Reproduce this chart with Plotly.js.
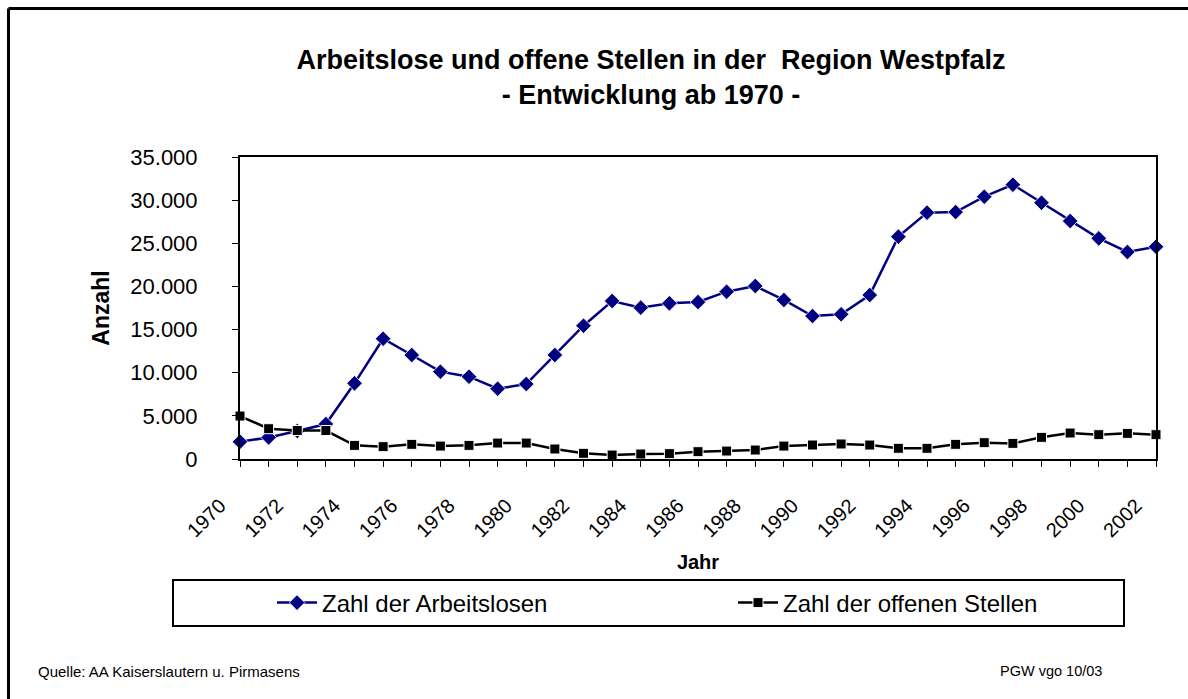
<!DOCTYPE html>
<html>
<head>
<meta charset="utf-8">
<script src="https://cdn.plot.ly/plotly-3.0.1.min.js"></script>
<style>
  html, body { margin: 0; padding: 0; background: #ffffff; }
  #chart { width: 1188px; height: 699px; }
</style>
</head>
<body>
<div id="chart"></div>
<script>
// ---- data ----
const years = [1970, 1971, 1972, 1973, 1974, 1975, 1976, 1977, 1978, 1979,
               1980, 1981, 1982, 1983, 1984, 1985, 1986, 1987, 1988, 1989,
               1990, 1991, 1992, 1993, 1994, 1995, 1996, 1997, 1998, 1999,
               2000, 2001, 2002];
const arbeitslose = [2000, 2500, 3250, 4050, 8770, 13940, 12050, 10120, 9540, 8150,
                     8690, 12050, 15450, 18310, 17540, 18040, 18190, 19390, 20050, 18430,
                     16570, 16770, 19000, 25770, 28550, 28620, 30400, 31790, 29700, 27580,
                     25570, 23990, 24600];
const offeneStellen = [4980, 3510, 3300, 3300, 1580, 1430, 1700, 1500, 1580, 1850,
                       1850, 1160, 660, 460, 580, 620, 850, 920, 1040, 1500,
                       1620, 1740, 1620, 1240, 1240, 1700, 1890, 1810, 2510, 3010,
                       2820, 2970, 2820];
const seriesNames = ["Zahl der Arbeitslosen", "Zahl der offenen Stellen"];
const yTickValues = [0, 5000, 10000, 15000, 20000, 25000, 30000, 35000];
const xTickLabels = years.map((y, i) => (i % 2 === 0 ? String(y) : ""));

const titleLine1 = "Arbeitslose und offene Stellen in der  Region Westpfalz";
const titleLine2 = "- Entwicklung ab 1970 -";
const sourceText = "Quelle: AA Kaiserslautern u. Pirmasens";
const creditText = "PGW vgo 10/03";

// ---- layout geometry (pixels) ----
const W = 1188, H = 699;
const L = 240, R = 1156, T = 157, B = 459;
const px = v => (v - L) / (R - L);
const py = v => (B - v) / (B - T);

const FONT = "Liberation Sans, Arial, sans-serif";

const traces = [
  {
    x: years, y: arbeitslose, name: seriesNames[0], legend: "legend",
    type: "scatter", mode: "lines+markers", cliponaxis: false,
    line: { color: "#000080", width: 2.5 },
    marker: { symbol: "diamond", size: 12, color: "#000080",
              line: { color: "#ffffff", width: 0.8 } }
  },
  {
    x: years, y: offeneStellen, name: seriesNames[1], legend: "legend2",
    type: "scatter", mode: "lines+markers", cliponaxis: false,
    line: { color: "#000000", width: 2.5 },
    marker: { symbol: "square", size: 10, color: "#000000",
              line: { color: "#ffffff", width: 1 } }
  }
];

const legendCommon = {
  orientation: "h",
  xref: "container", yref: "container",
  xanchor: "left",
  y: 1 - 603 / H, yanchor: "middle",
  bgcolor: "rgba(0,0,0,0)", borderwidth: 0,
  font: { family: FONT, size: 24, color: "#000000" },
  itemwidth: 40
};

const layout = {
  width: W, height: H,
  margin: { l: L, r: W - R, t: T, b: H - B, pad: 0 },
  paper_bgcolor: "#ffffff", plot_bgcolor: "#ffffff",
  separators: ",.",
  font: { family: FONT, color: "#000000" },
  title: {
    text: "<b>" + titleLine1 + "</b><br><b>" + titleLine2 + "</b>",
    font: { family: FONT, size: 27, color: "#000000" },
    x: 651 / W, xanchor: "center",
    y: 1 - 69 / H, yanchor: "top", yref: "container"
  },
  showlegend: true,
  legend: Object.assign({}, legendCommon, { x: 272 / W }),
  legend2: Object.assign({}, legendCommon, { x: 733 / W }),
  xaxis: {
    range: [years[0], years[years.length - 1]],
    tickmode: "array", tickvals: years, ticktext: xTickLabels,
    tickangle: -45,
    ticks: "outside", ticklen: 6, tickwidth: 1, tickcolor: "#000000",
    ticklabelstandoff: 19, ticklabelshift: -20,
    showline: true, linecolor: "#000000", linewidth: 2, mirror: true,
    showgrid: false, zeroline: false,
    tickfont: { family: FONT, size: 20, color: "#000000" },
    title: { text: "<b>Jahr</b>", font: { family: FONT, size: 20, color: "#000000" }, standoff: 15 },
    fixedrange: true
  },
  yaxis: {
    range: [0, 35000],
    tickmode: "array", tickvals: yTickValues, tickformat: ",d",
    ticks: "outside", ticklen: 6, tickwidth: 1, tickcolor: "#000000",
    ticklabelstandoff: 30,
    showline: true, linecolor: "#000000", linewidth: 2, mirror: true,
    showgrid: false, zeroline: false,
    tickfont: { family: FONT, size: 22, color: "#000000" },
    title: { text: "<b>Anzahl</b>", font: { family: FONT, size: 23, color: "#000000" }, standoff: 14 },
    fixedrange: true
  },
  shapes: [
    // outer frame (top and left edges visible in reference)
    { type: "line", xref: "paper", yref: "paper", x0: px(8.5), x1: px(W + 5), y0: py(8.5), y1: py(8.5),
      line: { color: "#000000", width: 3 } },
    { type: "line", xref: "paper", yref: "paper", x0: px(8.5), x1: px(8.5), y0: py(8.5), y1: py(H + 5),
      line: { color: "#000000", width: 3 } },
    // legend box
    { type: "rect", xref: "paper", yref: "paper", x0: px(173), x1: px(1124), y0: py(580), y1: py(626),
      line: { color: "#000000", width: 2 }, fillcolor: "rgba(0,0,0,0)", layer: "below" }
  ],
  annotations: [
    { text: sourceText, xref: "paper", yref: "paper", x: px(36), y: py(671),
      xanchor: "left", yanchor: "middle", showarrow: false,
      font: { family: FONT, size: 15, color: "#000000" } },
    { text: creditText, xref: "paper", yref: "paper", x: px(998), y: py(671),
      xanchor: "left", yanchor: "middle", showarrow: false,
      font: { family: FONT, size: 14.5, color: "#000000" } }
  ]
};

Plotly.newPlot("chart", traces, layout, { displayModeBar: false, staticPlot: true });
</script>
</body>
</html>
